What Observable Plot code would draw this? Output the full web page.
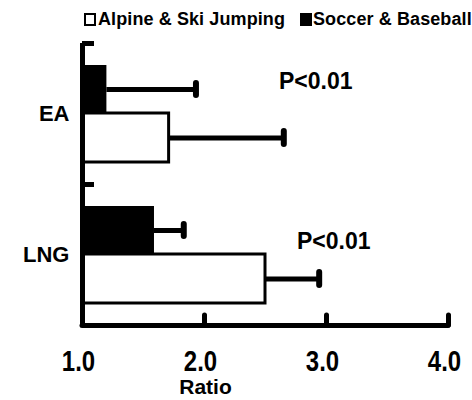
<!DOCTYPE html>
<html><head><meta charset="utf-8">
<script src="https://cdn.jsdelivr.net/npm/d3@7"></script>
<script src="https://cdn.jsdelivr.net/npm/@observablehq/plot@0.6"></script>
<style>
body{margin:0;background:#fff;font-family:"Liberation Sans",Arial,sans-serif;}
#legend{position:relative;height:30px;width:472px;font-weight:bold;font-size:18px;line-height:18px;letter-spacing:0.1px;color:#000}
#legend .sw{position:absolute;top:13px;width:12px;height:13px;box-sizing:border-box;border:2px solid #000}
#legend .lb{position:absolute;top:10px;white-space:nowrap}
</style></head><body>
<div id="legend"></div>
<div id="chart"></div>
<script>
const groups = ["EA", "LNG"];
const seriesNames = ["Alpine & Ski Jumping", "Soccer & Baseball"];
const seriesFill = ["#fff", "#000"];
const alpineRatio = [1.71, 2.50];
const alpineUpper = [2.65, 2.94];
const soccerRatio = [1.20, 1.59];
const soccerUpper = [1.93, 1.83];
const xTicks = [1, 2, 3, 4];
const pLabels = ["P<0.01", "P<0.01"];
const baseline = 1;

// legend
const legend = document.getElementById("legend");
const swLeft = [84, 300], lbLeft = [98, 313];
seriesNames.forEach((name, i) => {
  const sw = document.createElement("div");
  sw.className = "sw"; sw.style.left = swLeft[i] + "px"; sw.style.background = seriesFill[i];
  const lb = document.createElement("div");
  lb.className = "lb"; lb.style.left = lbLeft[i] + "px"; lb.textContent = name;
  legend.append(sw, lb);
});

const alpine = groups.map((g, i) => ({group: g, value: alpineRatio[i], upper: alpineUpper[i]}));
const soccer = groups.map((g, i) => ({group: g, value: soccerRatio[i], upper: soccerUpper[i]}));
const last = groups[groups.length - 1];

const plot = Plot.plot({
  width: 472, height: 370,
  marginLeft: 82, marginRight: 24, marginTop: 13, marginBottom: 75,
  x: {domain: [1, 4]},
  y: {domain: groups, padding: 0},
  style: {fontFamily: '"Liberation Sans", Arial, sans-serif', fontWeight: "bold", color: "#000", background: "#fff"},
  marks: [
    Plot.barX(soccer, {y: "group", x1: () => baseline, x2: "value", fill: seriesFill[1], insetTop: 22, insetBottom: 71}),
    Plot.barX(alpine, {y: "group", x1: () => baseline, x2: "value", fill: seriesFill[0], stroke: "#000", strokeWidth: 3, insetTop: 70, insetBottom: 22}),
    Plot.ruleY(soccer, {y: "group", x1: "value", x2: "upper", dy: -24.5, strokeWidth: 5}),
    Plot.ruleY(alpine, {y: "group", x1: "value", x2: "upper", dy: 24, strokeWidth: 5}),
    Plot.tickX(soccer, {x: "upper", y: "group", insetTop: 40, insetBottom: 89, strokeWidth: 6, strokeLinecap: "round"}),
    Plot.tickX(alpine, {x: "upper", y: "group", insetTop: 88, insetBottom: 40, strokeWidth: 6, strokeLinecap: "round"}),
    Plot.ruleX([baseline], {strokeWidth: 5}),
    Plot.tickY(groups, {y: d => d, dy: -70.5, insetRight: 354, strokeWidth: 5}),
    Plot.tickY([last], {y: d => d, dy: 70.5, strokeWidth: 5, strokeLinecap: "round"}),
    Plot.tickX(xTicks.slice(1), {x: d => d, y: () => last, insetTop: 131, strokeWidth: 5, strokeLinecap: "round"}),
    Plot.axisY({tickSize: 0, tickPadding: 13, fontSize: 22, fontWeight: "bold", label: null}),
    Plot.axisX({ticks: xTicks, tickFormat: d => d.toFixed(1), tickSize: 0, tickPadding: 25, fontSize: 24, fontWeight: "bold", dx: -4, label: null}),
    Plot.text(["Ratio"], {frameAnchor: "bottom", dx: -60, dy: 54, lineAnchor: "top", fontSize: 21, fontWeight: "bold"}),
    Plot.text([pLabels[0]], {y: () => groups[0], frameAnchor: "right", textAnchor: "end", dx: -96, dy: -32.5, fontSize: 23, fontWeight: "bold"}),
    Plot.text([pLabels[1]], {y: () => groups[1], frameAnchor: "right", textAnchor: "end", dx: -78, dy: -13.5, fontSize: 23, fontWeight: "bold"})
  ]
});
// the reference's tick numerals are slightly taller than wide
d3.select(plot).selectAll('g[aria-label="x-axis tick label"] text').each(function() {
  const t = this.getAttribute("transform");
  if (t) this.setAttribute("transform", t + " scale(1,1.2)");
});
document.getElementById("chart").append(plot);
</script>
</body></html>
